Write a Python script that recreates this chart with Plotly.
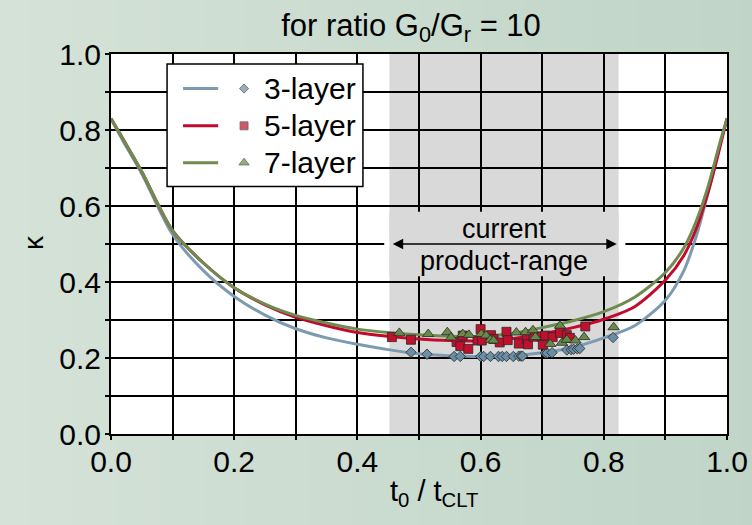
import plotly.graph_objects as go

# ---------------- data ----------------
x_curve = [0.0, 0.02, 0.05, 0.10, 0.15, 0.20, 0.25, 0.30, 0.35, 0.40, 0.45, 0.50, 0.55,
           0.60, 0.65, 0.70, 0.75, 0.80, 0.85, 0.90, 0.93, 0.95, 0.97, 0.98, 0.99, 1.0]
k3_curve = [0.830, 0.770, 0.685, 0.525, 0.430, 0.362, 0.313, 0.277, 0.253, 0.236, 0.222, 0.211, 0.206,
            0.204, 0.206, 0.214, 0.228, 0.253, 0.285, 0.352, 0.430, 0.520, 0.640, 0.705, 0.770, 0.830]
k5_curve = [0.830, 0.775, 0.690, 0.535, 0.450, 0.385, 0.340, 0.307, 0.285, 0.267, 0.257, 0.250, 0.246,
            0.245, 0.251, 0.264, 0.280, 0.302, 0.335, 0.405, 0.470, 0.540, 0.640, 0.700, 0.765, 0.830]
k7_curve = [0.830, 0.775, 0.690, 0.535, 0.450, 0.385, 0.342, 0.312, 0.292, 0.276, 0.267, 0.261, 0.257,
            0.257, 0.264, 0.280, 0.298, 0.322, 0.360, 0.425, 0.490, 0.560, 0.655, 0.715, 0.775, 0.830]

x3_pts = [0.487, 0.513, 0.557, 0.567, 0.600, 0.605, 0.616, 0.629, 0.635, 0.642, 0.653, 0.662,
          0.666, 0.668, 0.705, 0.708, 0.716, 0.740, 0.747, 0.751, 0.757, 0.761, 0.815]
k3_pts = [0.215, 0.210, 0.204, 0.204, 0.204, 0.204, 0.204, 0.204, 0.204, 0.204, 0.204, 0.205,
          0.205, 0.205, 0.213, 0.213, 0.214, 0.221, 0.222, 0.223, 0.224, 0.225, 0.254]

x5_pts = [0.456, 0.487, 0.561, 0.567, 0.571, 0.580, 0.595, 0.600, 0.602, 0.617, 0.621, 0.631, 0.642,
          0.644, 0.662, 0.675, 0.677, 0.686, 0.699, 0.701, 0.705, 0.717, 0.729, 0.740, 0.745, 0.770]
k5_pts = [0.255, 0.248, 0.242, 0.231, 0.259, 0.224, 0.246, 0.276, 0.246, 0.260, 0.250, 0.241, 0.269,
          0.247, 0.238, 0.250, 0.236, 0.256, 0.257, 0.235, 0.259, 0.255, 0.266, 0.260, 0.253, 0.283]

x7_pts = [0.468, 0.515, 0.546, 0.552, 0.571, 0.581, 0.601, 0.609, 0.616, 0.621, 0.658, 0.673,
          0.685, 0.689, 0.713, 0.729, 0.732, 0.740, 0.754, 0.768, 0.816]
k7_pts = [0.266, 0.263, 0.268, 0.254, 0.263, 0.261, 0.263, 0.259, 0.248, 0.246, 0.267, 0.268,
          0.273, 0.255, 0.237, 0.285, 0.240, 0.248, 0.246, 0.255, 0.281]

series_names = ["3-layer", "5-layer", "7-layer"]
product_range = [0.452, 0.824]

# ---------------- styles ----------------
FONT = "Liberation Sans, Arial, sans-serif"
line_colors = ["#7d9bb0", "#c20a2c", "#6e8c50"]
marker_colors = ["#6a8ea6", "#c0102c", "#678a48"]
symbols = ["diamond", "square", "triangle-up"]
msizes = [8, 9, 10]
leg_msizes = [7, 8, 9]

W, H = 752, 525
ML, MR, MT, MB = 111, 25, 54, 91
pw, ph = W - ML - MR, H - MT - MB


def px2paper(px, py):
    return (px - ML) / pw, (H - MB - py) / ph


fig = go.Figure()

curves = [k3_curve, k5_curve, k7_curve]
for i in range(3):
    fig.add_trace(go.Scatter(x=x_curve, y=curves[i], mode="lines",
                             line=dict(color=line_colors[i], width=3, shape="spline", smoothing=0.8),
                             showlegend=False, hoverinfo="skip"))

pts = [(x3_pts, k3_pts), (x5_pts, k5_pts), (x7_pts, k7_pts)]
for i in range(3):
    fig.add_trace(go.Scatter(x=pts[i][0], y=pts[i][1], mode="markers",
                             marker=dict(symbol=symbols[i], size=msizes[i], color=marker_colors[i],
                                         line=dict(color="#2a2a2a", width=0.8)),
                             showlegend=False, name=series_names[i]))

# ---- manual legend (positions in axis units) ----
leg_x0, leg_x1, leg_y0, leg_y1 = 0.091, 0.409, 0.651, 0.974
leg_rows = [0.909, 0.811, 0.714]
leg_line = [0.117, 0.174]
leg_mark_x = 0.216
leg_text_x = 0.245

fig.add_trace(go.Scatter(x=[leg_mark_x] * 3, y=leg_rows, mode="markers",
                         marker=dict(symbol=symbols, size=leg_msizes, color=marker_colors,
                                     line=dict(color="#2a2a2a", width=0.8)),
                         showlegend=False, hoverinfo="skip", cliponaxis=False))

shapes = []
# paper background gradient
n = 40
c0 = (213, 226, 216)
c1 = (190, 211, 198)
for k in range(n):
    t = k / (n - 1)
    c = tuple(round(c0[j] + (c1[j] - c0[j]) * t) for j in range(3))
    shapes.append(dict(type="rect", xref="paper", yref="paper",
                       x0=-0.2 + 1.4 * k / n - 0.001, x1=-0.2 + 1.4 * (k + 1) / n + 0.001,
                       y0=-0.3, y1=1.2, fillcolor="rgb(%d,%d,%d)" % c, line=dict(width=0),
                       layer="below"))
# white plot area
shapes.append(dict(type="rect", xref="x", yref="y", x0=0, x1=1, y0=0, y1=1,
                   fillcolor="white", line=dict(width=0), layer="below"))
# product range band
shapes.append(dict(type="rect", xref="x", yref="y", x0=product_range[0], x1=product_range[1],
                   y0=0, y1=1, fillcolor="#d9d9d9", line=dict(width=0), layer="below"))
# cover boxes for the arrow label area
shapes.append(dict(type="rect", xref="x", yref="y", x0=0.4435, x1=0.835, y0=0.485, y1=0.515,
                   fillcolor="white", line=dict(width=0), layer="between"))
shapes.append(dict(type="rect", xref="x", yref="y", x0=product_range[0], x1=product_range[1],
                   y0=0.415, y1=0.585, fillcolor="#d9d9d9", line=dict(width=0), layer="between"))
# legend box
shapes.append(dict(type="rect", xref="x", yref="y", x0=leg_x0, x1=leg_x1, y0=leg_y0, y1=leg_y1,
                   fillcolor="white", line=dict(color="black", width=1.5), layer="between"))
for i in range(3):
    shapes.append(dict(type="line", xref="x", yref="y", x0=leg_line[0], x1=leg_line[1],
                       y0=leg_rows[i], y1=leg_rows[i],
                       line=dict(color=line_colors[i], width=3), layer="above"))

annotations = []
for i in range(3):
    annotations.append(dict(x=leg_text_x, y=leg_rows[i], xref="x", yref="y", text=series_names[i],
                            showarrow=False, xanchor="left", yanchor="middle",
                            font=dict(family=FONT, size=30, color="black")))
mid = (product_range[0] + product_range[1]) / 2
annotations.append(dict(x=product_range[1] - 0.003, y=0.5, ax=product_range[0] + 0.003, ay=0.5,
                        xref="x", yref="y", axref="x", ayref="y", text="", showarrow=True,
                        arrowhead=2, arrowside="end+start", arrowsize=1.3, arrowwidth=1.6,
                        arrowcolor="black"))
annotations.append(dict(x=mid, y=0.54, xref="x", yref="y", text="current", showarrow=False,
                        font=dict(family=FONT, size=27, color="black")))
annotations.append(dict(x=mid, y=0.456, xref="x", yref="y", text="product-range", showarrow=False,
                        font=dict(family=FONT, size=27, color="black")))
# axis titles (positions given in page pixels)
tx, ty = px2paper(434, 493)
annotations.append(dict(x=tx, y=ty, xref="paper", yref="paper",
                        text="t<sub>0</sub> / t<sub>CLT</sub>", showarrow=False,
                        xanchor="center", yanchor="middle",
                        font=dict(family=FONT, size=29, color="black")))
kx, ky = px2paper(33, 243)
annotations.append(dict(x=kx, y=ky, xref="paper", yref="paper", text="κ", showarrow=False,
                        textangle=-90, xanchor="center", yanchor="middle",
                        font=dict(family=FONT, size=28, color="black")))

axis_common = dict(range=[0, 1], dtick=0.2, tick0=0, tickformat=".1f", automargin=False,
                   showgrid=True, gridcolor="black", gridwidth=1.6,
                   showline=True, linecolor="black", linewidth=2, mirror=True,
                   ticks="outside", ticklen=4, tickwidth=1.5, tickcolor="black",
                   zeroline=False,
                   tickfont=dict(family=FONT, size=30, color="black"),
                   minor=dict(dtick=0.1, tick0=0, showgrid=True, gridcolor="black", gridwidth=1.6,
                              ticks="outside", ticklen=4, tickwidth=1.5, tickcolor="black"))

fig.update_layout(
    width=W, height=H,
    margin=dict(l=ML, r=MR, t=MT, b=MB),
    paper_bgcolor="rgb(202,219,207)",
    plot_bgcolor="white",
    title=dict(text="for ratio G<sub>0</sub>/G<sub>r</sub> = 10", x=411 / 752, xref="container",
               xanchor="center", y=1 - 25 / 525, yref="container", yanchor="middle",
               font=dict(family=FONT, size=31, color="black")),
    xaxis=dict(axis_common, ticklabelstandoff=-4),
    yaxis=dict(axis_common, ticklabelstandoff=-2),
    shapes=shapes,
    annotations=annotations,
    showlegend=False,
)

fig.write_html("out.html")
